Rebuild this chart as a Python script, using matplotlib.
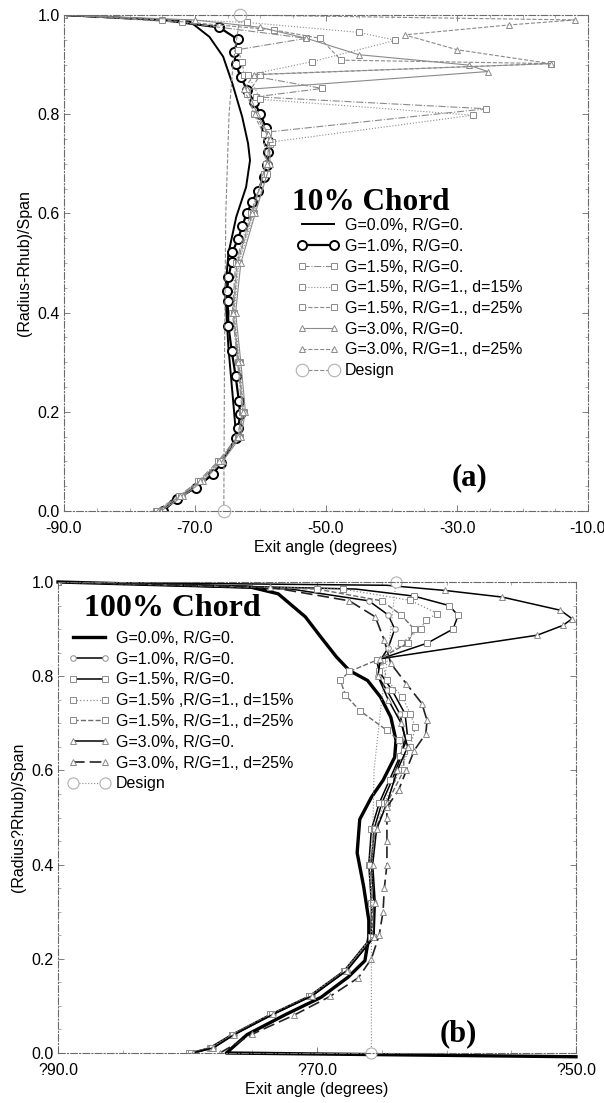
import matplotlib
matplotlib.use("Agg")
import matplotlib.pyplot as plt

plt.rcParams['font.family'] = ['Liberation Sans', 'DejaVu Sans']

# ---------------- Panel (a) : 10% chord ----------------
y_g00_a = [0.0, 0.02, 0.047, 0.074, 0.097, 0.148, 0.195, 0.33, 0.44, 0.519, 0.593, 0.653, 0.707, 0.741, 0.795, 0.862, 0.916, 0.956, 0.987, 1.0]
x_g00_a = [-74.6, -73.7, -69.9, -67.3, -66.0, -63.7, -64.0, -64.9, -65.4, -64.9, -63.7, -62.2, -61.6, -61.9, -62.8, -64.3, -65.7, -67.8, -70.8, -90.0]

y_g10_a = [0.0, 0.024, 0.047, 0.074, 0.097, 0.148, 0.168, 0.195, 0.222, 0.272, 0.323, 0.373, 0.424, 0.444, 0.471, 0.502, 0.522, 0.549, 0.574, 0.6, 0.623, 0.646, 0.673, 0.698, 0.723, 0.745, 0.773, 0.8, 0.825, 0.848, 0.874, 0.902, 0.925, 0.951, 0.975, 0.99, 1.0]
x_g10_a = [-74.9, -72.8, -69.9, -67.3, -66.0, -63.7, -63.4, -63.1, -63.3, -63.8, -64.4, -64.9, -65.0, -65.1, -64.9, -64.4, -64.3, -63.4, -62.8, -62.1, -61.3, -60.4, -59.5, -59.0, -58.8, -58.8, -59.2, -60.0, -61.0, -62.0, -63.0, -63.8, -64.0, -63.5, -66.3, -75.0, -90.0]

y_g15_a = [0.0, 0.03, 0.06, 0.1, 0.15, 0.2, 0.3, 0.4, 0.5, 0.6, 0.68, 0.74, 0.764, 0.811, 0.835, 0.852, 0.88, 0.906, 0.93, 0.953, 0.985, 1.0]
x_g15_a = [-76.0, -72.5, -69.5, -66.5, -63.5, -62.8, -63.5, -64.3, -63.8, -61.5, -59.5, -58.6, -58.9, -25.5, -60.7, -50.6, -62.5, -62.8, -63.5, -53.0, -72.0, -90.0]

y_g15d15_a = [0.0, 0.03, 0.06, 0.1, 0.15, 0.2, 0.3, 0.4, 0.5, 0.6, 0.68, 0.744, 0.798, 0.83, 0.879, 0.906, 0.949, 0.965, 0.985, 1.0]
x_g15d15_a = [-75.5, -72.0, -69.0, -66.0, -63.2, -62.5, -63.2, -64.0, -63.3, -61.0, -59.0, -58.3, -27.6, -60.0, -61.9, -52.1, -39.4, -45.0, -62.0, -90.0]

y_g15d25_a = [0.0, 0.03, 0.06, 0.1, 0.15, 0.2, 0.3, 0.4, 0.5, 0.6, 0.7, 0.76, 0.8, 0.84, 0.88, 0.902, 0.909, 0.953, 0.97, 0.99, 1.0]
x_g15d25_a = [-75.8, -72.2, -69.2, -66.2, -63.3, -62.6, -63.3, -64.1, -63.5, -61.2, -59.2, -59.5, -61.0, -62.0, -60.0, -15.7, -47.7, -50.9, -58.0, -75.0, -90.0]

y_g30_a = [0.0, 0.03, 0.06, 0.1, 0.15, 0.2, 0.3, 0.4, 0.5, 0.6, 0.7, 0.76, 0.8, 0.85, 0.886, 0.899, 0.92, 0.953, 0.975, 0.99, 1.0]
x_g30_a = [-75.2, -71.8, -68.8, -65.8, -63.0, -62.3, -63.0, -63.8, -63.0, -60.8, -58.5, -58.8, -60.5, -62.0, -25.3, -28.2, -45.0, -53.0, -60.0, -70.0, -90.0]

y_g30d25_a = [0.0, 0.03, 0.06, 0.1, 0.15, 0.2, 0.3, 0.4, 0.5, 0.6, 0.7, 0.75, 0.8, 0.85, 0.88, 0.902, 0.93, 0.96, 0.98, 0.99, 1.0]
x_g30d25_a = [-75.6, -72.3, -69.3, -66.3, -63.4, -62.7, -63.4, -64.2, -63.6, -61.3, -59.0, -58.6, -60.8, -62.5, -61.0, -15.7, -30.0, -38.0, -22.0, -12.0, -63.0]

y_design_a = [0.0, 0.3, 0.6, 0.8, 0.9, 1.0]
x_design_a = [-65.6, -65.5, -65.3, -64.8, -64.2, -63.1]

# ---------------- Panel (b) : 100% chord ----------------
y_g00_b = [-0.008, 0.0, 0.039, 0.082, 0.118, 0.161, 0.196, 0.246, 0.282, 0.354, 0.425, 0.496, 0.543, 0.579, 0.628, 0.664, 0.713, 0.756, 0.791, 0.812, 0.841, 0.883, 0.926, 0.975, 0.989, 1.0]
x_g00_b = [-50.0, -77.0, -75.4, -72.4, -69.7, -67.6, -66.3, -66.0, -66.0, -66.4, -66.9, -66.7, -65.8, -64.9, -64.0, -63.9, -64.3, -65.1, -66.1, -67.5, -68.5, -69.7, -70.9, -73.0, -75.1, -90.0]

y_g10_b = [0.0, 0.011, 0.039, 0.082, 0.121, 0.175, 0.246, 0.318, 0.4, 0.475, 0.53, 0.58, 0.63, 0.67, 0.72, 0.77, 0.8, 0.83, 0.86, 0.9, 0.93, 0.96, 0.985, 1.0]
x_g10_b = [-79.5, -78.0, -76.4, -73.4, -70.4, -67.7, -65.6, -65.6, -65.8, -65.6, -65.0, -64.2, -63.5, -63.2, -63.6, -64.6, -65.3, -65.2, -64.5, -64.0, -64.5, -66.0, -72.0, -90.0]

y_g15_b = [0.0, 0.011, 0.039, 0.082, 0.121, 0.175, 0.246, 0.318, 0.4, 0.475, 0.53, 0.58, 0.63, 0.67, 0.72, 0.77, 0.81, 0.834, 0.87, 0.9, 0.929, 0.95, 0.97, 0.985, 1.0]
x_g15_b = [-79.8, -78.3, -76.6, -73.6, -70.6, -67.9, -65.8, -65.8, -66.0, -65.8, -65.2, -64.4, -63.6, -63.0, -63.2, -64.2, -65.2, -65.4, -61.5, -59.5, -59.1, -59.8, -62.5, -67.0, -90.0]

y_g15d15_b = [0.0, 0.011, 0.039, 0.082, 0.121, 0.175, 0.246, 0.318, 0.4, 0.475, 0.53, 0.6, 0.65, 0.692, 0.72, 0.756, 0.791, 0.834, 0.87, 0.9, 0.919, 0.933, 0.961, 0.985, 1.0]
x_g15d15_b = [-79.9, -78.2, -76.6, -73.6, -70.6, -67.9, -65.8, -65.8, -66.0, -65.6, -64.8, -63.6, -62.8, -62.4, -62.8, -63.4, -64.6, -65.0, -63.5, -62.0, -61.6, -60.7, -62.8, -68.0, -90.0]

y_g15d25_b = [0.0, 0.011, 0.039, 0.082, 0.121, 0.175, 0.246, 0.318, 0.4, 0.475, 0.53, 0.6, 0.642, 0.664, 0.685, 0.727, 0.76, 0.791, 0.81, 0.834, 0.87, 0.9, 0.93, 0.96, 0.985, 1.0]
x_g15d25_b = [-79.7, -78.1, -76.5, -73.5, -70.5, -67.8, -65.7, -65.7, -65.9, -65.5, -64.6, -63.3, -63.3, -63.7, -64.6, -66.7, -67.8, -68.2, -67.5, -65.4, -63.0, -62.5, -63.5, -65.0, -70.0, -90.0]

y_g30_b = [0.0, 0.011, 0.039, 0.082, 0.121, 0.175, 0.246, 0.318, 0.4, 0.475, 0.53, 0.6, 0.65, 0.7, 0.75, 0.8, 0.837, 0.887, 0.908, 0.922, 0.94, 0.968, 0.982, 0.993, 1.0]
x_g30_b = [-79.6, -78.0, -76.4, -73.4, -70.4, -67.7, -65.6, -65.5, -65.7, -65.4, -64.6, -63.8, -63.0, -63.5, -64.5, -65.3, -65.1, -53.0, -51.0, -50.3, -51.2, -55.7, -60.1, -64.6, -90.0]

y_g30d25_b = [0.0, 0.04, 0.08, 0.12, 0.16, 0.2, 0.25, 0.3, 0.35, 0.4, 0.45, 0.5, 0.522, 0.558, 0.6, 0.642, 0.678, 0.706, 0.742, 0.784, 0.827, 0.876, 0.926, 0.96, 0.989, 1.0]
x_g30d25_b = [-77.5, -75.0, -71.8, -69.0, -66.8, -65.8, -65.2, -64.9, -64.8, -64.6, -64.6, -64.6, -64.6, -63.7, -63.1, -62.5, -61.6, -61.5, -61.9, -63.1, -64.3, -64.8, -65.5, -67.5, -73.6, -90.0]

y_design_b = [0.0, 0.3, 0.6, 0.75, 0.85, 1.0]
x_design_b = [-65.8, -65.8, -65.6, -65.0, -64.5, -63.9]

labels_a = ["G=0.0%, R/G=0.", "G=1.0%, R/G=0.", "G=1.5%, R/G=0.",
            "G=1.5%, R/G=1., d=15%", "G=1.5%, R/G=1., d=25%",
            "G=3.0%, R/G=0.", "G=3.0%, R/G=1., d=25%", "Design"]
labels_b = ["G=0.0%, R/G=0.", "G=1.0%, R/G=0.", "G=1.5%, R/G=0.",
            "G=1.5% ,R/G=1., d=15%", "G=1.5%, R/G=1., d=25%",
            "G=3.0%, R/G=0.", "G=3.0%, R/G=1., d=25%", "Design"]
xticks_a = [-90.0, -70.0, -50.0, -30.0, -10.0]
xticklabels_a = ["-90.0", "-70.0", "-50.0", "-30.0", "-10.0"]
xticks_b = [-90.0, -70.0, -50.0]
xticklabels_b = ["?90.0", "?70.0", "?50.0"]
yticks = [0.0, 0.2, 0.4, 0.6, 0.8, 1.0]
yticklabels = ["0.0", "0.2", "0.4", "0.6", "0.8", "1.0"]

W, H = 604, 1103
fig = plt.figure(figsize=(W / 100, H / 100), dpi=100)

def axes_px(l, t, r, b):
    return fig.add_axes([l / W, 1 - b / H, (r - l) / W, (b - t) / H])

ax_a = axes_px(64, 15, 588, 511)
ax_b = axes_px(58, 582, 576, 1053)

GRAY = '#8a8a8a'
DGRAY = '#6a6a6a'
FS = 11.5

def style_axes(ax, xlim, xt, xtl, ylab):
    ax.set_xlim(*xlim)
    ax.set_ylim(0.0, 1.0)
    ax.set_xticks(xt)
    ax.set_xticklabels(xtl, fontsize=FS)
    ax.set_yticks(yticks)
    ax.set_yticklabels(yticklabels, fontsize=FS)
    ax.tick_params(axis='x', direction='in', length=4, width=0.6, color=DGRAY, pad=7,
                   top=True)
    ax.tick_params(axis='y', direction='in', length=4, width=0.6, color=DGRAY, pad=3,
                   right=True)
    ax.minorticks_on()
    ax.tick_params(which='minor', direction='in', length=2, width=0.5, color=GRAY,
                   top=True, right=True)
    for s in ax.spines.values():
        s.set_linestyle((0, (6, 2, 1, 2)))
        s.set_color(DGRAY)
        s.set_linewidth(0.8)
    ax.set_xlabel("Exit angle (degrees)", fontsize=FS, labelpad=3)
    ax.set_ylabel(ylab, fontsize=FS, labelpad=4)

def legend_at(ax, handles, x_px, top_px):
    ax.legend(handles=handles, loc='upper left', bbox_to_anchor=(x_px / W, 1 - top_px / H),
              bbox_transform=fig.transFigure, frameon=False, fontsize=FS,
              handlelength=2.6, handletextpad=0.4, labelspacing=0.36, numpoints=2,
              borderpad=0, borderaxespad=0)

# ---- panel a ----
ax = ax_a
h = []
h += ax.plot(x_g00_a, y_g00_a, color='black', lw=1.4, label=labels_a[0])
h += ax.plot(x_g10_a, y_g10_a, color='black', lw=1.6, marker='o', ms=6.5, mfc='white',
             mec='black', mew=1.4, markevery=slice(0, -2), label=labels_a[1])
h += ax.plot(x_g15_a, y_g15_a, color=GRAY, lw=0.8, ls='-.', marker='s', ms=4, mfc='white',
             mec=GRAY, mew=0.7, label=labels_a[2])
h += ax.plot(x_g15d15_a, y_g15d15_a, color=GRAY, lw=0.8, ls=':', marker='s', ms=4, mfc='white',
             mec=GRAY, mew=0.7, label=labels_a[3])
h += ax.plot(x_g15d25_a, y_g15d25_a, color=GRAY, lw=0.8, ls='--', marker='s', ms=4, mfc='white',
             mec=GRAY, mew=0.7, label=labels_a[4])
h += ax.plot(x_g30_a, y_g30_a, color=GRAY, lw=0.8, ls='-', marker='^', ms=4, mfc='white',
             mec=GRAY, mew=0.7, label=labels_a[5])
h += ax.plot(x_g30d25_a, y_g30d25_a, color=GRAY, lw=0.8, ls='--', marker='^', ms=4, mfc='white',
             mec=GRAY, mew=0.7, label=labels_a[6])
h += ax.plot(x_design_a, y_design_a, color=GRAY, lw=0.8, ls='--', marker='o', ms=9, mfc='white',
             mec='#b0b0b0', mew=0.8, markevery=[0, len(x_design_a) - 1], label=labels_a[7],
             clip_on=False)
style_axes(ax, (-90, -10), xticks_a, xticklabels_a, "(Radius-Rhub)/Span")
fig.text(292 / W, 1 - 203 / H, "10% Chord", family='Liberation Serif', weight='bold',
         fontsize=22.5, va='center', ha='left')
fig.text(452 / W, 1 - 478 / H, "(a)", family='Liberation Serif', weight='bold',
         fontsize=22, va='center', ha='left')
legend_at(ax, h, 297, 218)

# ---- panel b ----
ax = ax_b
h = []
h += ax.plot(x_g00_b, y_g00_b, color='black', lw=2.4, label=labels_b[0], clip_on=False)
h += ax.plot(x_g10_b, y_g10_b, color='black', lw=1.1, marker='o', ms=4, mfc='white',
             mec=GRAY, mew=0.7, markevery=slice(0, -2), label=labels_b[1])
h += ax.plot(x_g15_b, y_g15_b, color='black', lw=1.1, marker='s', ms=4, mfc='white',
             mec=GRAY, mew=0.7, markevery=slice(0, -2), label=labels_b[2])
h += ax.plot(x_g15d15_b, y_g15d15_b, color=GRAY, lw=0.9, ls=':', marker='s', ms=4, mfc='white',
             mec=GRAY, mew=0.7, label=labels_b[3])
h += ax.plot(x_g15d25_b, y_g15d25_b, color=DGRAY, lw=1.0, ls='--', marker='s', ms=4, mfc='white',
             mec=GRAY, mew=0.7, label=labels_b[4])
h += ax.plot(x_g30_b, y_g30_b, color='black', lw=1.1, marker='^', ms=4, mfc='white',
             mec=GRAY, mew=0.7, markevery=slice(0, -2), label=labels_b[5])
h += ax.plot(x_g30d25_b, y_g30d25_b, color='#222222', lw=1.2, ls=(0, (7, 3)), marker='^', ms=4,
             mfc='white', mec=GRAY, mew=0.7, label=labels_b[6])
h += ax.plot(x_design_b, y_design_b, color=GRAY, lw=0.8, ls=':', marker='o', ms=8, mfc='white',
             mec='#b0b0b0', mew=0.8, markevery=[0, len(x_design_b) - 1], label=labels_b[7],
             clip_on=False)
style_axes(ax, (-90, -50), xticks_b, xticklabels_b, "(Radius?Rhub)/Span")
fig.text(84 / W, 1 - 609 / H, "100% Chord", family='Liberation Serif', weight='bold',
         fontsize=23, va='center', ha='left')
fig.text(440 / W, 1 - 1034 / H, "(b)", family='Liberation Serif', weight='bold',
         fontsize=22, va='center', ha='left')
legend_at(ax, h, 68, 631)

fig.savefig("out.png", dpi=100)
